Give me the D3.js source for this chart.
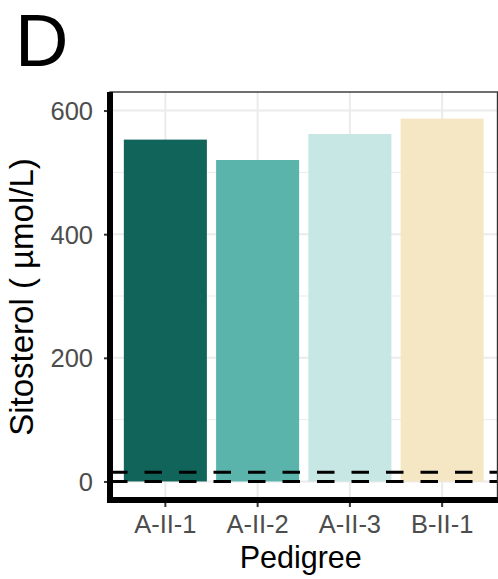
<!DOCTYPE html>
<html>
<head>
	<meta charset="utf-8">
	<style>
		body { margin: 0; background: #fff; }
		text { font-family: "Liberation Sans", Arial, sans-serif; }
	</style>
</head>
<body>
	<script src="https://cdn.jsdelivr.net/npm/d3@7"></script>

	<script>
		const pedigree = ['A-II-1', 'A-II-2', 'A-II-3', 'B-II-1'];
		const sitosterol = [553, 520, 562, 587];
		const barColors = ['#10645A', '#5AB4AC', '#C7E7E4', '#F5E7C3'];
		const refLines = [0, 15];
		const yTicks = [0, 200, 400, 600];
		const yMinor = [100, 300, 500];

		const W = 498, H = 579;
		const panel = { left: 110, right: 497.5, top: 92, bottom: 500 };

		const svg = d3.select('body')
			.append('svg')
			.attr('width', W)
			.attr('height', H);

		const x = d3.scaleBand()
			.domain(pedigree)
			.range([panel.left, panel.right])
			.paddingInner(0.1)
			.paddingOuter(0.15);

		const y = d3.scaleLinear()
			.domain([-30, 630])
			.range([panel.bottom, panel.top]);

		const cx = d => x(d) + x.bandwidth() / 2;

		// grid
		const grid = svg.append('g');
		grid.selectAll('.minor').data(yMinor).join('line')
			.attr('x1', panel.left).attr('x2', panel.right)
			.attr('y1', d => y(d)).attr('y2', d => y(d))
			.attr('stroke', '#EBEBEB').attr('stroke-width', 1);
		grid.selectAll('.hmaj').data(yTicks).join('line')
			.attr('x1', panel.left).attr('x2', panel.right)
			.attr('y1', d => y(d)).attr('y2', d => y(d))
			.attr('stroke', '#EBEBEB').attr('stroke-width', 2);
		grid.selectAll('.vmaj').data(pedigree).join('line')
			.attr('x1', d => cx(d)).attr('x2', d => cx(d))
			.attr('y1', panel.top).attr('y2', panel.bottom)
			.attr('stroke', '#EBEBEB').attr('stroke-width', 2);

		// bars
		svg.selectAll('.bar')
			.data(pedigree)
			.join('rect')
			.attr('x', d => x(d))
			.attr('width', x.bandwidth())
			.attr('y', (d, i) => y(sitosterol[i]))
			.attr('height', (d, i) => y(0) - y(sitosterol[i]))
			.attr('fill', (d, i) => barColors[i]);

		// reference lines
		svg.selectAll('.ref')
			.data(refLines)
			.join('line')
			.attr('x1', panel.left).attr('x2', panel.right)
			.attr('y1', d => y(d)).attr('y2', d => y(d))
			.attr('stroke', '#000')
			.attr('stroke-width', 3)
			.attr('stroke-dasharray', '17.5,17');

		// panel border (top / right)
		svg.append('rect')
			.attr('x', panel.left).attr('y', panel.top)
			.attr('width', panel.right - panel.left)
			.attr('height', panel.bottom - panel.top)
			.attr('fill', 'none')
			.attr('stroke', '#333')
			.attr('stroke-width', 1.4);

		// axes
		const yAxis = d3.axisLeft(y).tickValues(yTicks).tickSize(6).tickPadding(11);
		const xAxis = d3.axisBottom(x).tickSize(7).tickPadding(8);

		const gy = svg.append('g')
			.attr('transform', `translate(${panel.left}, 0)`)
			.call(yAxis);
		const gx = svg.append('g')
			.attr('transform', `translate(0, ${panel.bottom})`)
			.call(xAxis);

		[gx, gy].forEach(g => {
			g.select('.domain').remove();
			g.selectAll('.tick line').attr('stroke', '#333').attr('stroke-width', 2);
			g.selectAll('.tick text')
				.attr('fill', '#4D4D4D')
				.style('font-size', '25.5px')
				.style('font-family', '"Liberation Sans", Arial, sans-serif');
		});
		gy.selectAll('.tick text').attr('dy', '0.35em');
		gx.selectAll('.tick text').attr('dy', '0.71em');

		// thick axis lines
		svg.append('line')
			.attr('x1', panel.left).attr('x2', panel.left)
			.attr('y1', panel.top).attr('y2', panel.bottom + 3)
			.attr('stroke', '#000').attr('stroke-width', 6);
		svg.append('line')
			.attr('x1', panel.left - 3).attr('x2', panel.right + 1)
			.attr('y1', panel.bottom).attr('y2', panel.bottom)
			.attr('stroke', '#000').attr('stroke-width', 6);

		// titles
		svg.append('text')
			.attr('x', (panel.left + panel.right) / 2 - 3)
			.attr('y', 568)
			.attr('text-anchor', 'middle')
			.style('font-size', '30.5px')
			.text('Pedigree');

		svg.append('text')
			.attr('transform', `translate(33, 297) rotate(-90)`)
			.attr('text-anchor', 'middle')
			.style('font-size', '33px')
			.text('Sitosterol ( µmol/L)');

		svg.append('text')
			.attr('x', 15)
			.attr('y', 66)
			.style('font-size', '74px')
			.text('D');
	</script>
</body>
</html>
